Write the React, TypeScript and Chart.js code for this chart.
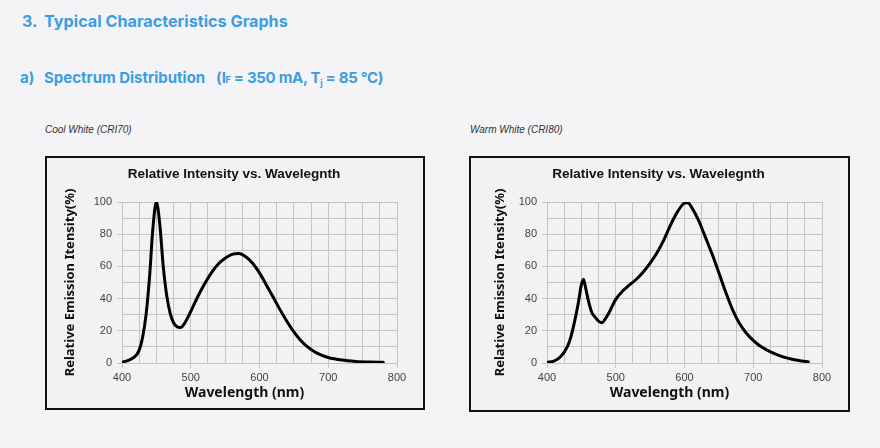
import React, { useEffect, useRef } from "react";
import { Chart, registerables } from "chart.js";

Chart.register(...registerables);

// ---- Data ----
const coolWavelengths = [400, 410, 420, 425, 430, 435, 440, 445, 450, 455, 460, 465, 470, 475, 480, 485, 490, 500, 510, 520, 530, 540, 550, 560, 570, 580, 590, 600, 610, 620, 630, 640, 650, 660, 670, 680, 690, 700, 720, 740, 760, 780];
const coolIntensity = [0.5, 1.8, 4.5, 8, 16, 30, 53, 84, 100, 86, 60, 42, 31, 25, 22.5, 22, 24, 32, 41, 49, 56, 61.5, 65, 67.5, 68, 66, 62, 56, 48.5, 40.8, 33, 25.8, 19.3, 14, 10, 7, 4.9, 3.4, 1.8, 1.0, 0.6, 0.4];

const warmWavelengths = [400, 410, 420, 430, 435, 440, 445, 450, 453, 456, 460, 465, 470, 475, 480, 485, 490, 500, 510, 520, 530, 540, 550, 560, 570, 580, 590, 600, 605, 610, 620, 630, 640, 650, 660, 670, 680, 690, 700, 710, 720, 730, 740, 750, 760, 770, 780];
const warmIntensity = [0.4, 1.1, 4, 10.5, 16.5, 25.5, 36, 48.5, 52, 47, 39, 31.5, 28.5, 26, 25, 27.5, 31, 39.5, 44.7, 48.5, 52, 56.5, 62, 68.5, 76.5, 86, 94, 99.3, 99.5, 97, 89, 78.5, 67.8, 56, 44, 33, 24.5, 18.5, 14, 10.5, 8, 6, 4.3, 3, 2, 1.3, 0.8];

const xTickLabels = [400, 500, 600, 700, 800];
const yTickLabels = [0, 20, 40, 60, 80, 100];

const chartTitle = "Relative Intensity vs. Wavelegnth";
const xAxisTitle = "Wavelength (nm)";
const yAxisTitle = "Relative Emission Itensity(%)";

const BLUE = "#3d9de2";
const GRID = "#c4c4c4";

type ChartProps = {
  wavelengths: number[];
  intensity: number[];
  yScaleWidth: number;
  xScaleHeight: number;
  rightPad: number;
  yTitlePad: number;
};

function SpectrumChart(props: ChartProps) {
  const ref = useRef<HTMLCanvasElement | null>(null);
  useEffect(() => {
    if (!ref.current) return;
    const textPlugin = {
      id: "textCustom",
      afterDraw(chart: any) {
        const { ctx, chartArea } = chart;
        ctx.save();
        ctx.fillStyle = "#111";
        ctx.textAlign = "center";
        ctx.textBaseline = "middle";
        ctx.font = 'bold 13.5px "Liberation Sans", Arial, sans-serif';
        ctx.fillText(chartTitle, chart.width / 2 - 1, 16);
        ctx.font = 'bold 14px "Noto Sans", sans-serif';
        ctx.textBaseline = "alphabetic";
        ctx.fillText(xAxisTitle, (chartArea.left + chartArea.right) / 2 - 15, chartArea.bottom + 34);
        ctx.restore();
      },
    };
    const chart = new Chart(ref.current, {
      type: "line",
      data: {
        datasets: [
          {
            data: props.wavelengths.map((w, i) => ({ x: w, y: props.intensity[i] })),
            borderColor: "#000",
            borderWidth: 3,
            pointRadius: 0,
            fill: false,
            cubicInterpolationMode: "monotone",
            borderJoinStyle: "round",
            borderCapStyle: "round",
          } as any,
        ],
      },
      options: {
        animation: false,
        responsive: false,
        maintainAspectRatio: false,
        events: [],
        layout: { padding: { left: 0, right: props.rightPad, top: 44, bottom: 0 } },
        plugins: {
          legend: { display: false },
          tooltip: { enabled: false },
          title: { display: false },
        },
        scales: {
          x: {
            type: "linear",
            min: 400,
            max: 800,
            ticks: {
              stepSize: 25,
              autoSkip: false,
              maxRotation: 0,
              padding: 3,
              color: "#444",
              font: { family: '"Liberation Sans", Arial, sans-serif', size: 11 },
              callback: (v: any) => (xTickLabels.includes(Number(v)) ? String(v) : ""),
            },
            grid: {
              color: GRID,
              lineWidth: 1,
              tickLength: 5,
              tickColor: (c: any) => (c.tick && xTickLabels.includes(c.tick.value) ? GRID : "rgba(0,0,0,0)"),
            },
            border: { color: GRID },
            afterFit: (s: any) => {
              s.height = props.xScaleHeight;
            },
          },
          y: {
            type: "linear",
            min: 0,
            max: 100,
            ticks: {
              stepSize: 10,
              autoSkip: false,
              padding: 5,
              color: "#444",
              font: { family: '"Liberation Sans", Arial, sans-serif', size: 11 },
              callback: (v: any) => (yTickLabels.includes(Number(v)) ? String(v) : ""),
            },
            grid: {
              color: GRID,
              lineWidth: 1,
              tickLength: 5,
              tickColor: (c: any) => (c.tick && yTickLabels.includes(c.tick.value) ? GRID : "rgba(0,0,0,0)"),
            },
            border: { color: GRID },
            title: {
              display: true,
              text: yAxisTitle,
              color: "#111",
              font: { family: '"Noto Sans", sans-serif', weight: "bold", size: 13 },
              padding: { top: props.yTitlePad, bottom: 0 },
            },
            afterFit: (s: any) => {
              s.width = props.yScaleWidth;
            },
          },
        },
      } as any,
      plugins: [textPlugin],
    });
    return () => chart.destroy();
  }, []);
  return <canvas ref={ref} style={{ display: "block", width: "100%", height: "100%" }} />;
}

function Box(props: { left: number; top: number; width: number; height: number; children: any }) {
  return (
    <div
      style={{
        position: "absolute",
        left: props.left,
        top: props.top,
        width: props.width,
        height: props.height,
        boxSizing: "border-box",
        border: "2px solid #111",
        background: "#f2f2f2",
      }}
    >
      {props.children}
    </div>
  );
}

function ChartCanvas(props: ChartProps & { w: number; h: number }) {
  return (
    <div style={{ width: props.w, height: props.h }}>
      <SpectrumChart {...props} />
    </div>
  );
}

export default function App() {
  const head: any = { position: "absolute", fontFamily: "Inter, sans-serif", fontWeight: 700, color: BLUE, lineHeight: 1, whiteSpace: "nowrap" };
  const label: any = { position: "absolute", fontFamily: '"Liberation Sans", Arial, sans-serif', fontStyle: "italic", fontSize: 10, color: "#333", lineHeight: 1, whiteSpace: "nowrap" };
  return (
    <div style={{ position: "fixed", left: 0, top: 0, width: 880, height: 448, background: "#f4f4f6", overflow: "hidden" }}>
      <div style={{ ...head, left: 22, top: 12.5, fontSize: 16 }}>3.</div>
      <div style={{ ...head, left: 44, top: 12.5, fontSize: 16.2 }}>Typical Characteristics Graphs</div>
      <div style={{ ...head, left: 20, top: 70, fontSize: 15 }}>a)</div>
      <div style={{ ...head, left: 44, top: 70, fontSize: 15 }}>Spectrum Distribution</div>
      <div style={{ ...head, left: 216, top: 70, fontSize: 15, letterSpacing: -0.3 }}>
        (I<span style={{ fontSize: 9 }}>F</span> = 350 mA, T<span style={{ fontSize: 9, verticalAlign: -3 }}>j</span> = 85 °C)
      </div>
      <div style={{ ...label, left: 45, top: 125 }}>Cool White (CRI70)</div>
      <div style={{ ...label, left: 470, top: 125 }}>Warm White (CRI80)</div>
      <Box left={45} top={156} width={380} height={254}>
        <ChartCanvas w={376} h={250} wavelengths={coolWavelengths} intensity={coolIntensity} yScaleWidth={75} xScaleHeight={45} rightPad={26} yTitlePad={15.6} />
      </Box>
      <Box left={469} top={156} width={381} height={256}>
        <ChartCanvas w={377} h={252} wavelengths={warmWavelengths} intensity={warmIntensity} yScaleWidth={76} xScaleHeight={47} rightPad={26} yTitlePad={21.6} />
      </Box>
    </div>
  );
}
